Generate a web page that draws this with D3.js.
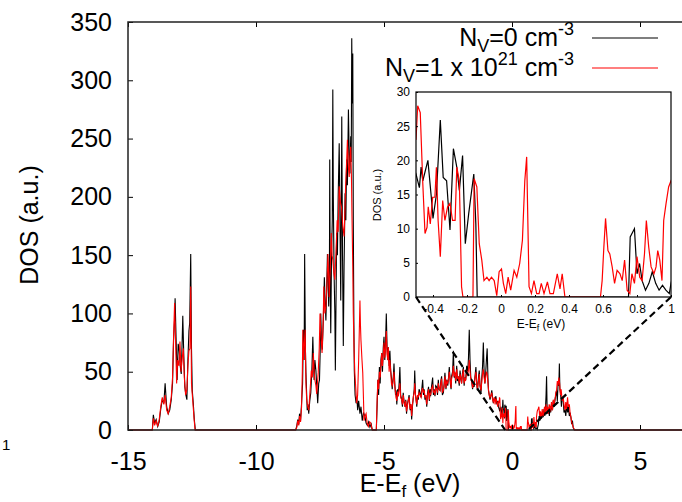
<!DOCTYPE html>
<html>
<head>
<meta charset="utf-8">
<script src="https://cdn.jsdelivr.net/npm/d3@7"></script>
<style>
  body { margin: 0; background: #fff; }
  svg { display: block; font-family: "Liberation Sans", Arial, sans-serif; }
</style>
</head>
<body>
<div class="chart"></div>
<script>
// tick values
var xTicks = [-15, -10, -5, 0, 5];
var yTicks = [0, 50, 100, 150, 200, 250, 300, 350];
var insetXTicks = [-0.4, -0.2, 0, 0.2, 0.4, 0.6, 0.8, 1];
var insetYTicks = [0, 5, 10, 15, 20, 25, 30];
// energy window magnified in the inset, and where the guide lines land on the main axis
var insetRange = [-0.5, 1];
var zoomFoot = [-0.27, 0.62];

// DOS, N_V = 0 cm^-3  ([E - Ef in eV, DOS])
var dosPristine = [
  [-15,0],[-14.05,0],
  [-14.01,13],[-13.96,6],[-13.9,9],[-13.84,3],[-13.78,7],[-13.72,18],[-13.66,26],[-13.6,23],[-13.55,40],[-13.49,20],
  [-13.43,14],[-13.37,17],[-13.31,26],[-13.26,40],[-13.22,77],[-13.18,95],[-13.16,113],[-13.12,77],[-13.08,43],[-13.04,74],
  [-13.0,68],[-12.96,55],[-12.92,48],[-12.88,80],[-12.86,98],[-12.82,63],[-12.78,37],[-12.74,30],[-12.7,26],[-12.66,60],
  [-12.62,85],[-12.59,92],[-12.55,151],[-12.52,70],[-12.49,34],[-12.45,23],[-12.41,9],[-12.37,0],
  [-8.45,0],[-8.41,3],[-8.37,9],[-8.33,5],[-8.3,14],[-8.26,8],[-8.22,23],[-8.18,40],[-8.15,86],[-8.12,60],[-8.1,151],
  [-8.07,70],[-8.05,49],[-8.02,30],[-8.0,17],[-7.97,22],[-7.94,14],[-7.9,25],[-7.86,32],[-7.82,50],[-7.78,80],[-7.75,55],
  [-7.73,43],[-7.7,60],[-7.66,51],[-7.62,35],[-7.59,23],[-7.55,40],[-7.52,43],[-7.49,70],[-7.47,100],[-7.44,75],[-7.41,69],
  [-7.37,95],[-7.33,131],[-7.3,110],[-7.27,94],[-7.24,120],[-7.21,151],[-7.18,125],[-7.16,106],[-7.13,150],[-7.12,232],
  [-7.1,120],[-7.08,83],[-7.05,150],[-7.02,180],[-7.0,292],[-6.98,200],[-6.95,134],[-6.92,100],[-6.9,51],[-6.87,120],
  [-6.85,169],[-6.82,150],[-6.79,200],[-6.75,246],[-6.72,180],[-6.69,111],[-6.67,180],[-6.65,269],[-6.62,150],[-6.59,72],
  [-6.56,140],[-6.52,203],[-6.49,180],[-6.46,232],[-6.43,210],[-6.39,275],[-6.36,237],[-6.33,220],[-6.3,252],[-6.28,230],
  [-6.26,336],[-6.24,280],[-6.22,323],[-6.2,180],[-6.18,100],[-6.16,51],[-6.13,30],[-6.09,23],[-6.06,28],[-6.03,17],
  [-5.99,25],[-5.94,14],[-5.9,20],[-5.85,8],[-5.8,15],[-5.74,11],[-5.7,6],[-5.65,4],[-5.6,7],[-5.55,2.5],[-5.5,5],[-5.46,0],
  [-5.3,0],[-5.27,20],[-5.24,43],[-5.21,30],[-5.18,54],[-5.15,40],[-5.12,60],[-5.09,66],[-5.06,50],[-5.03,70],[-5.0,80],
  [-4.97,60],[-4.94,75],[-4.91,100],[-4.88,70],[-4.85,60],[-4.83,71],[-4.8,55],[-4.77,68],[-4.74,51],[-4.71,45],[-4.68,35],
  [-4.66,40],[-4.63,48],[-4.61,57],[-4.58,40],[-4.55,30],[-4.53,34],[-4.5,22],[-4.47,35],[-4.44,29],[-4.41,40],[-4.38,54],
  [-4.35,30],[-4.31,26],[-4.28,20],[-4.25,32],[-4.22,25],[-4.18,20],[-4.15,26],[-4.12,14],[-4.09,22],[-4.05,26],[-4.02,30],
  [-3.98,17],[-3.95,22],[-3.92,9],[-3.89,20],[-3.85,29],[-3.82,35],[-3.8,51],[-3.77,30],[-3.74,25],[-3.72,20],[-3.69,30],
  [-3.66,26],[-3.63,35],[-3.59,32],[-3.55,28],[-3.52,36],[-3.49,43],[-3.46,30],[-3.43,35],[-3.4,26],[-3.37,30],[-3.33,20],
  [-3.3,32],[-3.26,37],[-3.23,25],[-3.2,35],[-3.18,29],[-3.14,38],[-3.1,45],[-3.07,30],[-3.04,35],[-3.01,29],[-2.98,38],
  [-2.94,37],[-2.91,30],[-2.88,43],[-2.85,35],[-2.81,34],[-2.78,42],[-2.75,46],[-2.72,30],[-2.68,32],[-2.65,40],[-2.62,49],
  [-2.58,35],[-2.55,43],[-2.51,38],[-2.48,45],[-2.45,54],[-2.41,40],[-2.38,35],[-2.36,46],[-2.32,50],[-2.29,68],[-2.26,45],
  [-2.23,49],[-2.2,40],[-2.16,55],[-2.13,42],[-2.1,46],[-2.06,38],[-2.03,51],[-2.0,44],[-1.97,40],[-1.94,48],[-1.9,54],
  [-1.87,38],[-1.84,45],[-1.81,43],[-1.77,55],[-1.73,50],[-1.7,62],[-1.67,86],[-1.64,60],[-1.61,45],[-1.58,43],[-1.54,35],
  [-1.51,40],[-1.48,37],[-1.45,45],[-1.41,54],[-1.38,40],[-1.35,34],[-1.31,45],[-1.28,51],[-1.25,38],[-1.21,32],[-1.18,45],
  [-1.15,55],[-1.12,75],[-1.09,50],[-1.06,40],[-1.03,48],[-1.0,60],[-0.97,70],[-0.94,45],[-0.92,34],[-0.89,30],[-0.86,26],
  [-0.82,30],[-0.79,34],[-0.76,28],[-0.73,23],[-0.69,27],[-0.66,25],[-0.63,29],[-0.59,22],[-0.56,25],[-0.53,20],
  [-0.5,18],[-0.49,17],[-0.48,16],[-0.47,19],[-0.46,17],[-0.45,18],[-0.43,20],[-0.41,14.6],[-0.4,11.5],[-0.38,15],
  [-0.357,25.9],[-0.34,17.5],[-0.32,17],[-0.3,9.8],[-0.28,21.7],[-0.26,19],[-0.245,15.6],[-0.226,20.7],[-0.21,7.8],
  [-0.19,12.2],[-0.16,18],[-0.148,10.7],[-0.14,0],[0.75,0],[0.76,8.8],[0.785,10],[0.8,3.4],[0.815,4.9],[0.83,2.4],
  [0.85,1],[0.87,2],[0.89,3.7],[0.91,2],[0.93,1],[0.95,1.7],[0.97,1],[0.99,0.5],[1.0,2],
  [1.03,5],[1.06,12],[1.09,8],[1.12,15],[1.15,10],[1.19,14],[1.22,11],[1.25,18],[1.28,12],[1.31,20],[1.33,30],[1.35,46],
  [1.37,20],[1.4,14],[1.43,18],[1.46,12],[1.48,20],[1.51,15],[1.54,22],[1.58,17],[1.61,25],[1.64,20],[1.68,26],[1.71,30],
  [1.74,34],[1.77,25],[1.8,40],[1.83,38],[1.85,57],[1.87,35],[1.9,31],[1.93,20],[1.96,28],[2.0,26],[2.03,15],[2.07,17],
  [2.1,12],[2.14,22],[2.17,15],[2.2,20],[2.24,12],[2.27,15],[2.3,11],[2.33,5],[2.36,8],[2.39,2],[2.43,0],
  [6.7,0]
];

// DOS, N_V = 1 x 10^21 cm^-3
var dosVacancy = [
  [-15,0],[-14.05,0],
  [-14.01,10],[-13.96,4],[-13.9,8],[-13.84,3],[-13.78,9],[-13.72,20],[-13.66,28],[-13.6,22],[-13.55,30],[-13.49,17],
  [-13.43,14],[-13.37,20],[-13.31,28],[-13.26,45],[-13.22,80],[-13.18,109],[-13.14,75],[-13.1,40],[-13.06,60],[-13.01,55],
  [-12.97,76],[-12.93,50],[-12.88,62],[-12.84,70],[-12.8,45],[-12.75,30],[-12.7,35],[-12.66,55],[-12.62,68],[-12.58,70],
  [-12.55,123],[-12.52,40],[-12.47,25],[-12.42,10],[-12.38,0],
  [-8.45,0],[-8.41,2],[-8.37,8],[-8.33,4],[-8.3,12],[-8.26,7],[-8.22,20],[-8.19,50],[-8.17,86],[-8.14,60],[-8.11,75],
  [-8.08,86],[-8.05,40],[-8.02,26],[-7.98,20],[-7.94,17],[-7.9,30],[-7.87,40],[-7.84,51],[-7.8,45],[-7.76,66],[-7.73,50],
  [-7.7,43],[-7.66,38],[-7.63,31],[-7.6,40],[-7.57,49],[-7.53,70],[-7.5,100],[-7.46,80],[-7.42,66],[-7.38,90],[-7.35,123],
  [-7.31,100],[-7.27,106],[-7.23,125],[-7.19,151],[-7.16,130],[-7.14,114],[-7.1,140],[-7.06,169],[-7.03,150],[-7.0,146],
  [-6.96,135],[-6.92,129],[-6.88,150],[-6.83,180],[-6.79,170],[-6.75,209],[-6.7,195],[-6.66,191],[-6.61,175],[-6.56,166],
  [-6.53,185],[-6.5,209],[-6.46,230],[-6.43,249],[-6.39,225],[-6.36,217],[-6.33,235],[-6.3,243],[-6.27,215],[-6.25,183],
  [-6.22,140],[-6.2,100],[-6.17,70],[-6.14,49],[-6.1,35],[-6.07,23],[-6.03,30],[-5.99,60],[-5.96,90],[-5.94,111],
  [-5.92,90],[-5.9,77],[-5.86,60],[-5.83,49],[-5.8,25],[-5.78,8],[-5.74,12],[-5.7,14],[-5.66,6],[-5.61,3],[-5.56,7],
  [-5.52,6],[-5.48,2],[-5.45,0],
  [-5.3,0],[-5.27,25],[-5.24,43],[-5.21,35],[-5.18,50],[-5.15,45],[-5.12,55],[-5.09,66],[-5.06,55],[-5.03,65],[-5.0,75],
  [-4.97,62],[-4.94,70],[-4.91,85],[-4.88,65],[-4.85,60],[-4.83,71],[-4.8,50],[-4.77,60],[-4.74,51],[-4.71,40],[-4.68,38],
  [-4.66,40],[-4.63,45],[-4.61,50],[-4.58,38],[-4.55,32],[-4.53,28],[-4.5,25],[-4.47,33],[-4.44,29],[-4.41,35],[-4.38,40],
  [-4.35,28],[-4.31,26],[-4.28,22],[-4.25,30],[-4.22,24],[-4.18,20],[-4.15,25],[-4.12,16],[-4.09,20],[-4.05,26],[-4.02,28],
  [-3.98,18],[-3.95,22],[-3.92,12],[-3.89,22],[-3.85,29],[-3.82,32],[-3.8,40],[-3.77,30],[-3.74,24],[-3.72,22],[-3.69,30],
  [-3.66,28],[-3.63,32],[-3.59,30],[-3.55,28],[-3.52,34],[-3.49,36],[-3.46,32],[-3.43,34],[-3.4,28],[-3.37,30],[-3.33,22],
  [-3.3,30],[-3.26,35],[-3.23,26],[-3.2,32],[-3.18,30],[-3.14,36],[-3.1,38],[-3.07,32],[-3.04,34],[-3.01,30],[-2.98,36],
  [-2.94,35],[-2.91,32],[-2.88,40],[-2.85,36],[-2.81,34],[-2.78,40],[-2.75,44],[-2.72,32],[-2.68,34],[-2.65,38],[-2.62,46],
  [-2.58,36],[-2.55,42],[-2.51,40],[-2.48,44],[-2.45,50],[-2.41,42],[-2.38,36],[-2.36,44],[-2.32,48],[-2.29,55],[-2.26,46],
  [-2.23,50],[-2.2,42],[-2.16,52],[-2.13,44],[-2.1,46],[-2.06,40],[-2.03,48],[-2.0,45],[-1.97,40],[-1.94,46],[-1.9,52],
  [-1.87,40],[-1.84,44],[-1.81,43],[-1.77,50],[-1.73,48],[-1.7,52],[-1.67,60],[-1.64,50],[-1.61,44],[-1.58,42],[-1.54,36],
  [-1.51,40],[-1.48,38],[-1.45,44],[-1.41,50],[-1.38,40],[-1.35,35],[-1.31,42],[-1.28,48],[-1.25,38],[-1.21,34],[-1.18,42],
  [-1.15,48],[-1.12,52],[-1.09,45],[-1.06,40],[-1.03,45],[-1.0,50],[-0.97,48],[-0.94,40],[-0.92,35],[-0.89,30],[-0.86,28],
  [-0.82,30],[-0.79,32],[-0.76,26],[-0.73,24],[-0.69,28],[-0.66,22],[-0.63,27],[-0.59,24],[-0.56,20],[-0.53,25],
  [-0.5,23],[-0.49,28],[-0.475,27],[-0.46,16.6],[-0.447,9.3],[-0.435,10.2],[-0.428,13.2],[-0.416,10.7],[-0.402,14.6],
  [-0.389,14.6],[-0.38,19],[-0.37,11.2],[-0.357,5.9],[-0.343,14.1],[-0.33,11.2],[-0.314,13.2],[-0.3,13.7],[-0.285,11.2],
  [-0.27,11.2],[-0.26,19],[-0.245,17],[-0.232,1.5],[-0.224,0],[-0.165,0],[-0.158,17.3],[-0.142,16.1],[-0.128,7.8],
  [-0.113,5.4],[-0.1,2.4],[-0.083,2.9],[-0.07,2.4],[-0.056,2.9],[-0.04,2.4],[-0.025,0.2],[-0.011,3.7],[0.003,4.1],
  [0.014,2],[0.028,0.5],[0.042,2.9],[0.057,1],[0.077,3.9],[0.093,2.9],[0.11,4.9],[0.126,8.3],[0.14,17],[0.151,20.5],
  [0.165,1.5],[0.179,0.5],[0.194,2.4],[0.21,0.5],[0.224,0.5],[0.237,2],[0.253,0.5],[0.273,2.2],[0.288,0.5],[0.308,0.5],
  [0.331,3.4],[0.347,1.2],[0.36,3.4],[0.376,0],[0.585,0],[0.595,2.4],[0.605,7.3],[0.615,11.5],[0.629,6.8],[0.64,6.3],
  [0.654,4.4],[0.668,2],[0.683,3.9],[0.7,3.4],[0.713,2.4],[0.727,5.4],[0.742,1],[0.758,0.5],[0.77,3.4],[0.785,2],
  [0.8,5.9],[0.816,2.9],[0.83,2.4],[0.844,6.3],[0.855,11.2],[0.869,7.3],[0.883,4.4],[0.9,3.4],[0.912,4.4],[0.922,6.8],
  [0.934,5.4],[0.947,2.4],[0.957,11.2],[0.971,13.7],[0.986,16.1],[1.0,17],
  [1.02,18],[1.05,20],[1.08,12],[1.11,16],[1.14,10],[1.18,18],[1.21,12],[1.24,15],[1.27,20],[1.3,14],[1.33,22],[1.36,16],
  [1.39,20],[1.42,14],[1.45,22],[1.48,20],[1.51,16],[1.54,24],[1.58,17],[1.61,26],[1.64,22],[1.68,26],[1.71,32],[1.74,34],
  [1.77,42],[1.8,38],[1.83,45],[1.86,40],[1.89,30],[1.92,35],[1.96,25],[2.0,28],[2.04,20],[2.07,17],[2.1,24],[2.13,18],
  [2.17,28],[2.2,20],[2.24,22],[2.27,14],[2.3,11],[2.34,6],[2.37,4],[2.4,2],[2.45,0],
  [6.7,0]
];

var svg = d3.select(".chart")
              .append("svg")
              .attr("width", 682)
              .attr("height", 502)
              .style("background-color", "white");

// main scales
var x = d3.scaleLinear().domain([-15, 6.64]).range([128, 682]);
var y = d3.scaleLinear().domain([0, 350]).range([430, 22]);

// inset scales
var xi = d3.scaleLinear().domain(insetRange).range([416, 671]);
var yi = d3.scaleLinear().domain([0, 30]).range([297, 92]);

// plain hyphen for negatives, like the original
function plain(d) { return String(+(+d).toFixed(1)); }

svg.append("clipPath").attr("id", "mainClip")
   .append("rect").attr("x", 128).attr("y", 0).attr("width", 554).attr("height", 431);
svg.append("clipPath").attr("id", "insetClip")
   .append("rect").attr("x", 416).attr("y", 92).attr("width", 255).attr("height", 205);

var line = d3.line().x(function(d){ return x(d[0]); }).y(function(d){ return y(d[1]); });
var lineInset = d3.line().x(function(d){ return xi(d[0]); }).y(function(d){ return yi(d[1]); });

// main curves
var curves = svg.append("g").attr("clip-path", "url(#mainClip)");
curves.append("path").datum(dosPristine)
      .attr("d", line).attr("fill", "none")
      .attr("stroke", "black").attr("stroke-width", 1.1);
curves.append("path").datum(dosVacancy)
      .attr("d", line).attr("fill", "none")
      .attr("stroke", "#ff0000").attr("stroke-width", 1.1);

// axes: ticks point inward, gnuplot style
function styleAxis(g, size) {
  g.select(".domain").remove();
  g.selectAll(".tick line").attr("stroke", "black").attr("stroke-width", 1);
  g.selectAll(".tick text").attr("fill", "black")
   .style("font-size", size + "px")
   .style("font-family", "'Liberation Sans', Arial, sans-serif");
}

svg.append("g").attr("transform", "translate(128,0)")
   .call(d3.axisLeft(y).tickValues(yTicks).tickSize(-5).tickPadding(16).tickFormat(plain))
   .call(styleAxis, 25);
svg.append("g").attr("transform", "translate(0,430)")
   .call(d3.axisBottom(x).tickValues(xTicks).tickSize(-5).tickPadding(22).tickFormat(plain))
   .call(styleAxis, 25);
svg.append("g").attr("transform", "translate(0,22)")
   .call(d3.axisTop(x).tickValues(xTicks).tickSize(-5).tickFormat(""))
   .call(styleAxis, 25);

// frame
svg.append("path")
   .attr("d", "M682,22H128V430H682")
   .attr("fill", "none").attr("stroke", "#222").attr("stroke-width", 1.5);

// axis titles
svg.append("text")
   .attr("transform", "translate(38,225) rotate(-90)")
   .attr("text-anchor", "middle")
   .style("font-size", "25px")
   .text("DOS (a.u.)");

var xTitle = svg.append("text")
   .attr("x", 410).attr("y", 492)
   .attr("text-anchor", "middle")
   .style("font-size", "25px");
xTitle.append("tspan").text("E-E");
xTitle.append("tspan").attr("dy", 5).style("font-size", "17px").text("f");
xTitle.append("tspan").attr("dy", -5).text(" (eV)");

svg.append("text")
   .attr("x", 2).attr("y", 450)
   .style("font-size", "15px")
   .text("1");

// legend
var legend = svg.append("g");
var lg1 = legend.append("text").attr("x", 574).attr("y", 46)
   .attr("text-anchor", "end").style("font-size", "25px");
lg1.append("tspan").text("N");
lg1.append("tspan").attr("dy", 6).style("font-size", "18px").text("V");
lg1.append("tspan").attr("dy", -6).text("=0 cm");
lg1.append("tspan").attr("dy", -11).style("font-size", "18px").text("-3");
legend.append("line").attr("x1", 592).attr("x2", 658).attr("y1", 38).attr("y2", 38)
   .attr("stroke", "black").attr("stroke-width", 1.1);

var lg2 = legend.append("text").attr("x", 574).attr("y", 76)
   .attr("text-anchor", "end").style("font-size", "25px");
lg2.append("tspan").text("N");
lg2.append("tspan").attr("dy", 6).style("font-size", "18px").text("V");
lg2.append("tspan").attr("dy", -6).text("=1 x 10");
lg2.append("tspan").attr("dy", -11).style("font-size", "18px").text("21");
lg2.append("tspan").attr("dy", 11).text(" cm");
lg2.append("tspan").attr("dy", -11).style("font-size", "18px").text("-3");
legend.append("line").attr("x1", 592).attr("x2", 658).attr("y1", 68).attr("y2", 68)
   .attr("stroke", "#ff0000").attr("stroke-width", 1.1);

// inset
var inset = svg.append("g");
inset.append("rect").attr("x", 416).attr("y", 92).attr("width", 255).attr("height", 205)
   .attr("fill", "white");
var insetCurves = inset.append("g").attr("clip-path", "url(#insetClip)");
insetCurves.append("path").datum(dosPristine)
   .attr("d", lineInset).attr("fill", "none")
   .attr("stroke", "black").attr("stroke-width", 1.2);
insetCurves.append("path").datum(dosVacancy)
   .attr("d", lineInset).attr("fill", "none")
   .attr("stroke", "#ff0000").attr("stroke-width", 1.2);

inset.append("g").attr("transform", "translate(416,0)")
   .call(d3.axisLeft(yi).tickValues(insetYTicks).tickSize(-2).tickPadding(6).tickFormat(plain))
   .call(styleAxis, 12);
inset.append("g").attr("transform", "translate(0,297)")
   .call(d3.axisBottom(xi).tickValues(insetXTicks).tickSize(-2).tickPadding(7).tickFormat(plain))
   .call(styleAxis, 12);
inset.append("rect").attr("x", 416).attr("y", 92).attr("width", 255).attr("height", 205)
   .attr("fill", "none").attr("stroke", "black").attr("stroke-width", 1.2);

inset.append("text")
   .attr("transform", "translate(381,195) rotate(-90)")
   .attr("text-anchor", "middle")
   .style("font-size", "11px")
   .text("DOS (a.u.)");
var xiTitle = inset.append("text")
   .attr("x", 541).attr("y", 328)
   .attr("text-anchor", "middle")
   .style("font-size", "12px");
xiTitle.append("tspan").text("E-E");
xiTitle.append("tspan").attr("dy", 3).style("font-size", "9px").text("f");
xiTitle.append("tspan").attr("dy", -3).text(" (eV)");

// dashed guide lines from inset corners down to the magnified window
svg.append("line")
   .attr("x1", xi(insetRange[0])).attr("y1", yi(0))
   .attr("x2", x(zoomFoot[0])).attr("y2", y(0))
   .attr("stroke", "black").attr("stroke-width", 2.2).attr("stroke-dasharray", "7,4");
svg.append("line")
   .attr("x1", xi(insetRange[1])).attr("y1", yi(0))
   .attr("x2", x(zoomFoot[1])).attr("y2", y(0))
   .attr("stroke", "black").attr("stroke-width", 2.2).attr("stroke-dasharray", "7,4");
</script>
</body>
</html>
